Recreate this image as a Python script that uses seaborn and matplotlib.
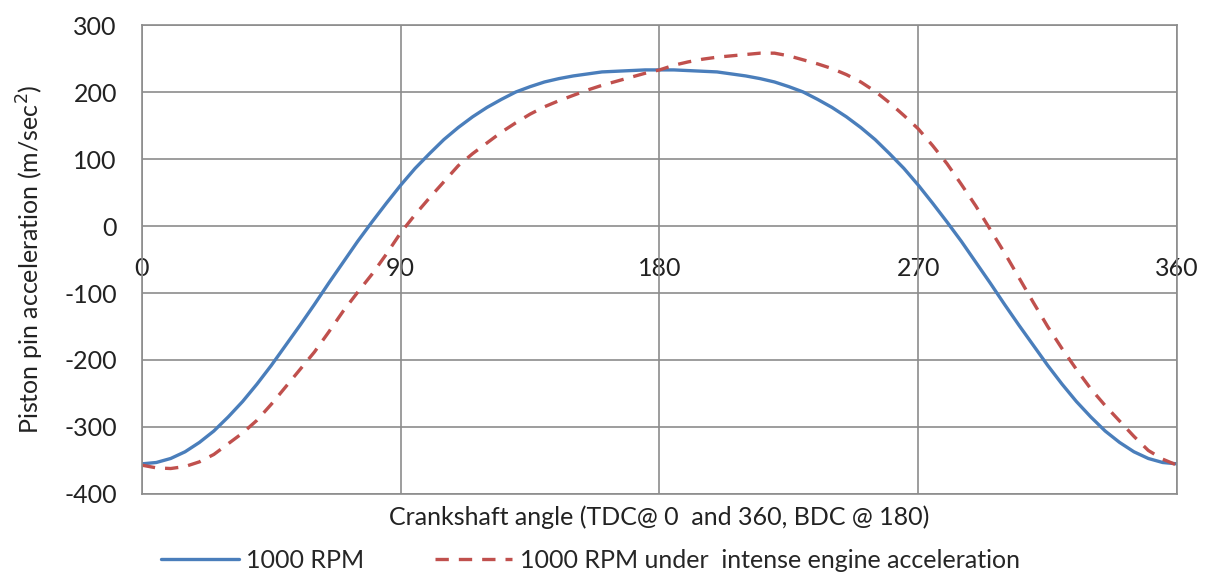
import numpy as np
import pandas as pd
import matplotlib
matplotlib.use("Agg")
import matplotlib.pyplot as plt
import seaborn as sns

# crank angle (deg) and piston pin acceleration (m/s^2)
angle = list(range(0, 361, 5))
rpm_1000 = [-355, -353, -347, -337, -323, -306, -285, -262, -236, -208,
            -178, -148, -117, -85, -54, -23, 6, 34, 61, 86,
            108, 129, 147, 163, 177, 189, 200, 208, 215, 220,
            224, 227, 230, 231, 232, 233, 233, 233, 232, 231,
            230, 227, 224, 220, 215, 208, 200, 189, 177, 163,
            147, 129, 108, 86, 61, 34, 6, -23, -54, -85,
            -117, -148, -178, -208, -236, -262, -285, -306, -323, -337,
            -347, -353, -355]
rpm_1000_accel = [-357, -361, -362, -359, -352, -341, -325, -309, -290, -266,
                  -240, -214, -188, -158, -127, -99, -72, -42, -10, 17,
                  42, 66, 90, 108, 124, 140, 154, 167, 178, 187,
                  195, 203, 210, 216, 222, 228, 233, 240, 245, 249,
                  252, 254, 256, 258, 258, 254, 248, 242, 235, 226,
                  215, 201, 184, 165, 145, 120, 93, 62, 30, -5,
                  -40, -77, -114, -150, -183, -214, -243, -268, -291, -314,
                  -335, -348, -357]

x_ticks = [0, 90, 180, 270, 360]
y_ticks = list(range(-400, 301, 100))

label_blue = "1000 RPM"
label_red = "1000 RPM under  intense engine acceleration"

df = pd.DataFrame({"angle": angle, "base": rpm_1000, "accel": rpm_1000_accel})

sns.set_style("white")
plt.rcParams["font.family"] = ["Lato", "DejaVu Sans"]
plt.rcParams["axes.unicode_minus"] = False

fig = plt.figure(figsize=(12.05, 5.74), dpi=100)
ax = fig.add_axes([0.1178, 0.1394, 0.859, 0.817])

grid_col = "#8c8c8c"
txt_col = "#222222"
blue = "#4a7ebb"
red = "#c0504d"

sns.lineplot(data=df, x="angle", y="base", ax=ax, color=blue, lw=2.4,
             label=label_blue)
sns.lineplot(data=df, x="angle", y="accel", ax=ax, color=red, lw=2.4,
             label=label_red)
ax.lines[1].set_dashes((4.0, 3.0))

ax.set_xlim(0, 360)
ax.set_ylim(-400, 300)
ax.set_xticks(x_ticks)
ax.set_yticks(y_ticks)
ax.grid(True, color=grid_col, lw=1.2)
ax.set_axisbelow(True)
for sp in ax.spines.values():
    sp.set_color(grid_col)
    sp.set_linewidth(1.2)

ax.tick_params(axis="x", labelbottom=False, length=0)
ax.tick_params(axis="y", length=0, pad=18, labelsize=18, labelcolor=txt_col)

# category labels sit just under the zero line, like the original
sec = ax.secondary_xaxis((0 - (-400)) / 700)
sec.set_xticks(x_ticks)
for sp in sec.spines.values():
    sp.set_visible(False)
sec.tick_params(axis="x", length=0, pad=22, labelsize=18, labelcolor=txt_col,
                top=False, labeltop=False, bottom=True, labelbottom=True)

ax.set_xlabel("Crankshaft angle (TDC@ 0  and 360, BDC @ 180)", fontsize=18,
              labelpad=8, color=txt_col)
ax.set_ylabel("Piston pin acceleration (m/sec$^2$)", fontsize=18,
              labelpad=13, color=txt_col)

ax.get_legend().remove()
handles, labels = ax.get_legend_handles_labels()
fig.legend(handles, labels, loc="lower center", ncol=2, frameon=False,
           bbox_to_anchor=(0.49, -0.035), fontsize=18, handlelength=3.1,
           columnspacing=2.8, handletextpad=0.3)

fig.savefig("out.png", dpi=100)
